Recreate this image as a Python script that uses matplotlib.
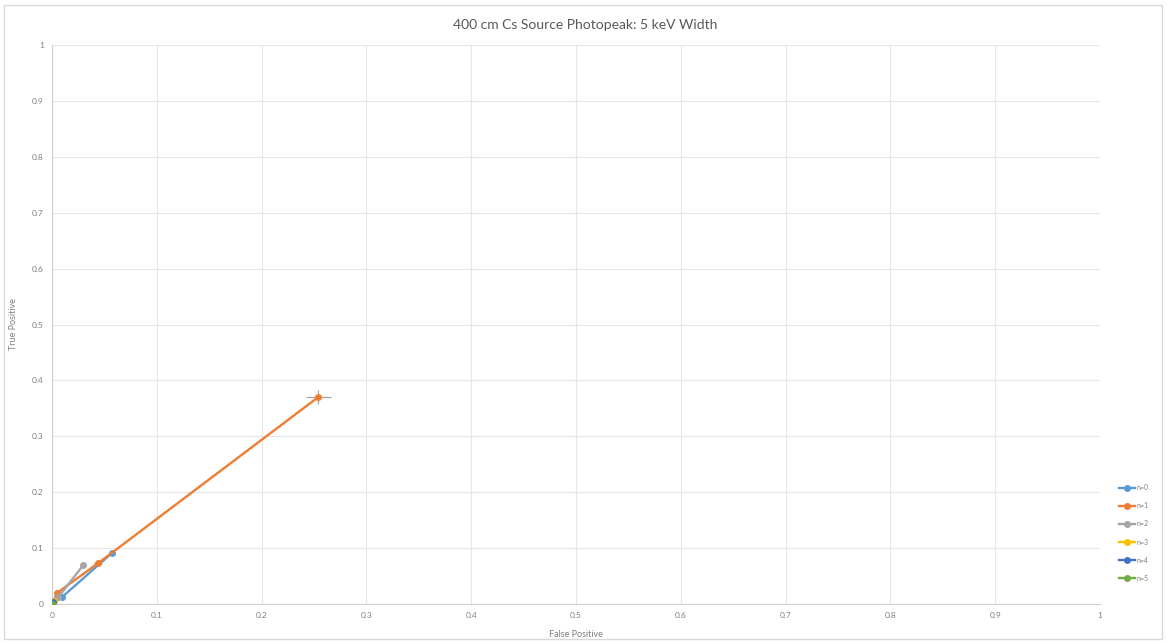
import matplotlib
matplotlib.use("Agg")
import matplotlib.pyplot as plt
from matplotlib.patches import Rectangle

plt.rcParams['font.family'] = ['Lato', 'DejaVu Sans']

# series (false positive, true positive)
labels = ["n=0", "n=1", "n=2", "n=3", "n=4", "n=5"]
colors = ["#5B9BD5", "#ED7D31", "#A5A5A5", "#FFC000", "#4472C4", "#70AD47"]

fp_0 = [0, 0.010, 0.057]
tp_0 = [0, 0.013, 0.091]
fp_1 = [0, 0.005, 0.044, 0.254]
tp_1 = [0, 0.020, 0.073, 0.370]
fp_2 = [0, 0.006, 0.030]
tp_2 = [0, 0.012, 0.070]
fp_3 = [0, 0.002]
tp_3 = [0, 0.006]
fp_4 = [0, 0.001]
tp_4 = [0, 0.003]
fp_5 = [0]
tp_5 = [0]

# error bars on the n=1 series
fp_err_1 = [0, 0.002, 0.004, 0.012]
tp_err_1 = [0, 0.003, 0.005, 0.013]

fp_all = [fp_0, fp_1, fp_2, fp_3, fp_4, fp_5]
tp_all = [tp_0, tp_1, tp_2, tp_3, tp_4, tp_5]

fig = plt.figure(figsize=(11.67, 6.43), dpi=100)
ax = fig.add_axes([52/1167, 39/643, 1048/1167, 559/643])

handles = []
for i in range(6):
    if i == 1:
        ax.errorbar(fp_all[i], tp_all[i], xerr=fp_err_1, yerr=tp_err_1,
                    fmt="none", ecolor="#A6A6A6", elinewidth=0.9, capsize=0, zorder=2)
    h, = ax.plot(fp_all[i], tp_all[i], color=colors[i], marker="o", markersize=4,
                 linewidth=1.7, label=labels[i], zorder=3)
    handles.append(h)

ax.set_xlim(0, 1)
ax.set_ylim(0, 1)
ax.set_xticks([i/10 for i in range(11)])
ax.set_yticks([i/10 for i in range(11)])
ax.set_xticklabels(["0", "0.1", "0.2", "0.3", "0.4", "0.5", "0.6", "0.7", "0.8", "0.9", "1"])
ax.set_yticklabels(["0", "0.1", "0.2", "0.3", "0.4", "0.5", "0.6", "0.7", "0.8", "0.9", "1"])
ax.grid(True, color="#E6E6E6", linewidth=0.8)
ax.set_axisbelow(True)
for s in ["top", "right"]:
    ax.spines[s].set_visible(False)
for s in ["left", "bottom"]:
    ax.spines[s].set_color("#D0D0D0")
ax.tick_params(length=0, labelsize=6, colors="#7F7F7F", pad=6)

ax.set_xlabel("False Positive", fontsize=6.5, color="#7F7F7F", labelpad=8)
ax.set_ylabel("True Positive", fontsize=6.5, color="#7F7F7F", labelpad=10)
fig.text(585/1167, 1 - 25/643, "400 cm Cs Source Photopeak: 5 keV Width",
         ha="center", va="center", fontsize=10, color="#595959")

leg = ax.legend(handles=handles, loc="center left", bbox_to_anchor=(1113/1167, 1 - 533/643),
                bbox_transform=fig.transFigure, frameon=False, fontsize=5,
                handlelength=2.2, labelspacing=1.6, handletextpad=0.3,
                labelcolor="#7F7F7F")

fig.patches.append(Rectangle((4/1167, 4/643), 1158/1167, 634/643, transform=fig.transFigure,
                             fill=False, edgecolor="#D9D9D9", linewidth=1))

fig.savefig("out.png", dpi=100)
